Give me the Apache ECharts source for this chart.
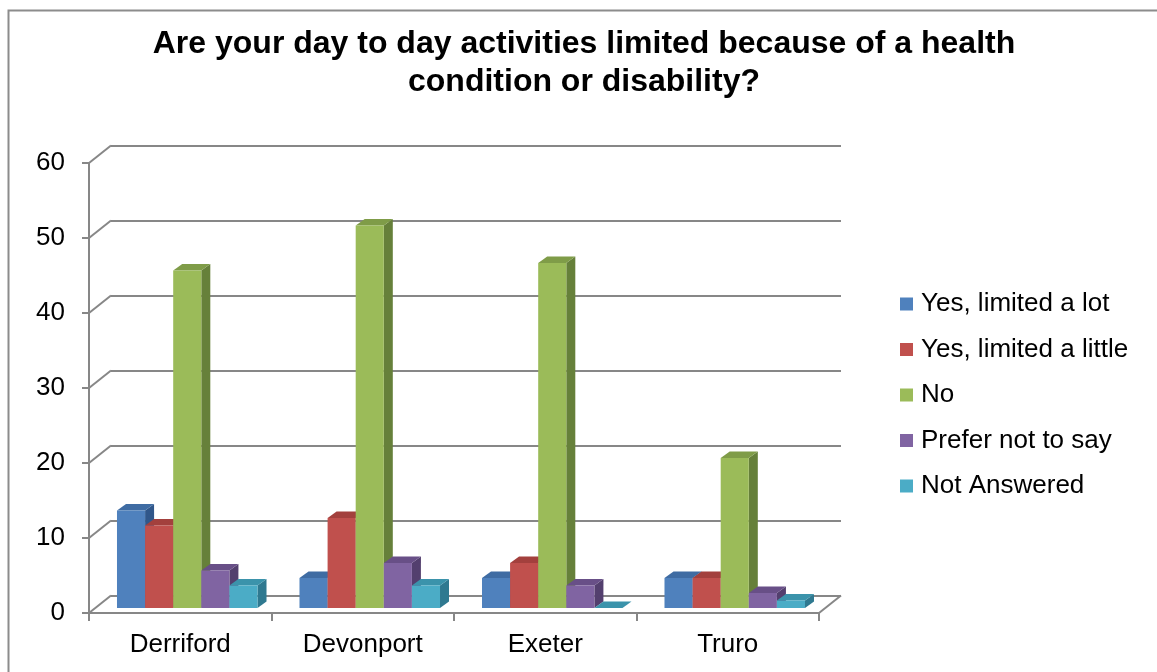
<!DOCTYPE html>
<html>
<head>
<meta charset="utf-8">
<style>
  html, body { margin: 0; padding: 0; background: #ffffff; }
  #chart { width: 1157px; height: 672px; }
</style>
<script src="https://cdn.jsdelivr.net/npm/echarts@6/dist/echarts.min.js"></script>
</head>
<body>
<div id="chart"></div>
<script>
// Survey responses per site
const categories = ['Derriford', 'Devonport', 'Exeter', 'Truro'];
const seriesNames = ['Yes, limited a lot', 'Yes, limited a little', 'No', 'Prefer not to say', 'Not Answered'];
const limitedLot = [13, 4, 4, 4];
const limitedLittle = [11, 12, 6, 4];
const answeredNo = [45, 51, 46, 20];
const preferNotToSay = [5, 6, 3, 2];
const notAnswered = [3, 3, 0, 1];
const valueMin = 0;
const valueMax = 60;
const valueStep = 10;

const seriesValues = [limitedLot, limitedLittle, answeredNo, preferNotToSay, notAnswered];

// Face colours of the prism bars: front, top, side
const frontColors = ['#4F81BD', '#C0504D', '#9BBB59', '#8064A2', '#4BACC6'];
const topColors   = ['#3F6CA3', '#A3403D', '#7F9C48', '#684F87', '#3B93AB'];
const sideColors  = ['#30578A', '#8A3533', '#66803A', '#533F6E', '#2F7990'];

// Perspective offsets (pixels): back wall relative to front axis plane,
// bar front faces relative to front plane, and bar depth
const WALL_DX = 22, WALL_DY = -17.5;
const PLANE_DX = 7, PLANE_DY = -5;
const DEPTH_DX = 9, DEPTH_DY = -6.5;
const GROUP_RATIO = 0.77;

const FONT = '"Liberation Sans", Arial, sans-serif';
const LINE = '#878787';

const chart = echarts.init(document.getElementById('chart'), null, { renderer: 'canvas' });

function barRenderer(idx) {
  return function (params, api) {
    const cat = api.value(0);
    const val = api.value(1);
    const base = api.coord([cat, 0]);
    const top = api.coord([cat, val]);
    const band = api.size([1, 0])[0];
    const groupW = band * GROUP_RATIO;
    const barW = groupW / seriesNames.length;
    const x0 = base[0] - groupW / 2 + idx * barW + PLANE_DX;
    const x1 = x0 + barW;
    const yb = base[1] + PLANE_DY;
    const yt = top[1] + PLANE_DY;
    return {
      type: 'group',
      children: [
        {
          type: 'polygon',
          shape: { points: [[x1, yt], [x1 + DEPTH_DX, yt + DEPTH_DY], [x1 + DEPTH_DX, yb + DEPTH_DY], [x1, yb]] },
          style: { fill: sideColors[idx] }
        },
        {
          type: 'polygon',
          shape: { points: [[x0, yt], [x0 + DEPTH_DX, yt + DEPTH_DY], [x1 + DEPTH_DX, yt + DEPTH_DY], [x1, yt]] },
          style: { fill: topColors[idx] }
        },
        {
          type: 'rect',
          shape: { x: x0, y: yt, width: barW, height: yb - yt },
          style: { fill: frontColors[idx] }
        }
      ]
    };
  };
}

// Diagonal edges joining the front axis plane to the back wall
function wallEdgeRenderer(params, api) {
  const v = api.value(0);
  const cs = params.coordSys;
  const y = api.coord([0, v])[1];
  const children = [{
    type: 'line',
    shape: { x1: cs.x, y1: y, x2: cs.x + WALL_DX, y2: y + WALL_DY },
    style: { stroke: LINE, lineWidth: 2 }
  }];
  if (v === valueMin) {
    const xr = cs.x + cs.width;
    children.push({
      type: 'line',
      shape: { x1: xr, y1: y, x2: xr + WALL_DX, y2: y + WALL_DY },
      style: { stroke: LINE, lineWidth: 2 }
    });
  }
  return { type: 'group', children: children };
}

const levels = [];
for (let v = valueMin; v <= valueMax; v += valueStep) levels.push([v]);

const frontGrid = { left: 89, top: 163, width: 730, height: 450 };
const backGrid = {
  left: frontGrid.left + WALL_DX,
  top: frontGrid.top + WALL_DY,
  width: frontGrid.width,
  height: frontGrid.height
};

const barSeries = seriesNames.map(function (name, i) {
  return {
    name: name,
    type: 'custom',
    xAxisIndex: 0,
    yAxisIndex: 0,
    z: 3,
    itemStyle: { color: frontColors[i] },
    renderItem: barRenderer(i),
    encode: { x: 0, y: 1 },
    data: seriesValues[i].map(function (v, c) { return [c, v]; })
  };
});

const option = {
  animation: false,
  color: frontColors,
  title: {
    text: 'Are your day to day activities limited because of a health\ncondition or disability?',
    left: 584,
    top: 25,
    padding: 0,
    textAlign: 'center',
    textStyle: { fontFamily: FONT, fontSize: 32, fontWeight: 'bold', color: '#000', lineHeight: 38 }
  },
  legend: {
    orient: 'vertical',
    left: 900,
    top: 291,
    padding: 0,
    itemWidth: 13,
    itemHeight: 13,
    itemGap: 19.5,
    icon: 'rect',
    data: seriesNames,
    selectedMode: false,
    textStyle: { fontFamily: FONT, fontSize: 26, color: '#000', lineHeight: 26, padding: [0, 0, 0, 3] }
  },
  grid: [
    Object.assign({ containLabel: false }, frontGrid),
    Object.assign({ containLabel: false }, backGrid)
  ],
  xAxis: [
    {
      type: 'category',
      gridIndex: 0,
      data: categories,
      boundaryGap: true,
      axisLine: { lineStyle: { color: LINE, width: 2 } },
      axisTick: { show: true, length: 8, lineStyle: { color: LINE, width: 2 } },
      axisLabel: { fontFamily: FONT, fontSize: 26, color: '#000', margin: 19 },
      splitLine: { show: false }
    },
    {
      type: 'category',
      gridIndex: 1,
      data: categories,
      show: false
    }
  ],
  yAxis: [
    {
      type: 'value',
      gridIndex: 0,
      min: valueMin,
      max: valueMax,
      interval: valueStep,
      axisLine: { show: true, lineStyle: { color: LINE, width: 2 } },
      axisTick: { show: true, length: 7, lineStyle: { color: LINE, width: 2 } },
      axisLabel: { fontFamily: FONT, fontSize: 26, color: '#000', margin: 24 },
      splitLine: { show: false }
    },
    {
      type: 'value',
      gridIndex: 1,
      min: valueMin,
      max: valueMax,
      interval: valueStep,
      axisLine: { show: false },
      axisTick: { show: false },
      axisLabel: { show: false },
      splitLine: { show: true, lineStyle: { color: LINE, width: 2 } }
    }
  ],
  graphic: [
    {
      type: 'rect',
      shape: { x: 8.5, y: 10.5, width: 1300, height: 800 },
      style: { fill: 'none', stroke: '#8c8c8c', lineWidth: 2 },
      silent: true,
      z: -10
    }
  ],
  series: [
    {
      name: 'wall-edges',
      type: 'custom',
      xAxisIndex: 0,
      yAxisIndex: 0,
      z: 1,
      silent: true,
      renderItem: wallEdgeRenderer,
      encode: { y: 0 },
      data: levels
    }
  ].concat(barSeries)
};

chart.setOption(option);
</script>
</body>
</html>
